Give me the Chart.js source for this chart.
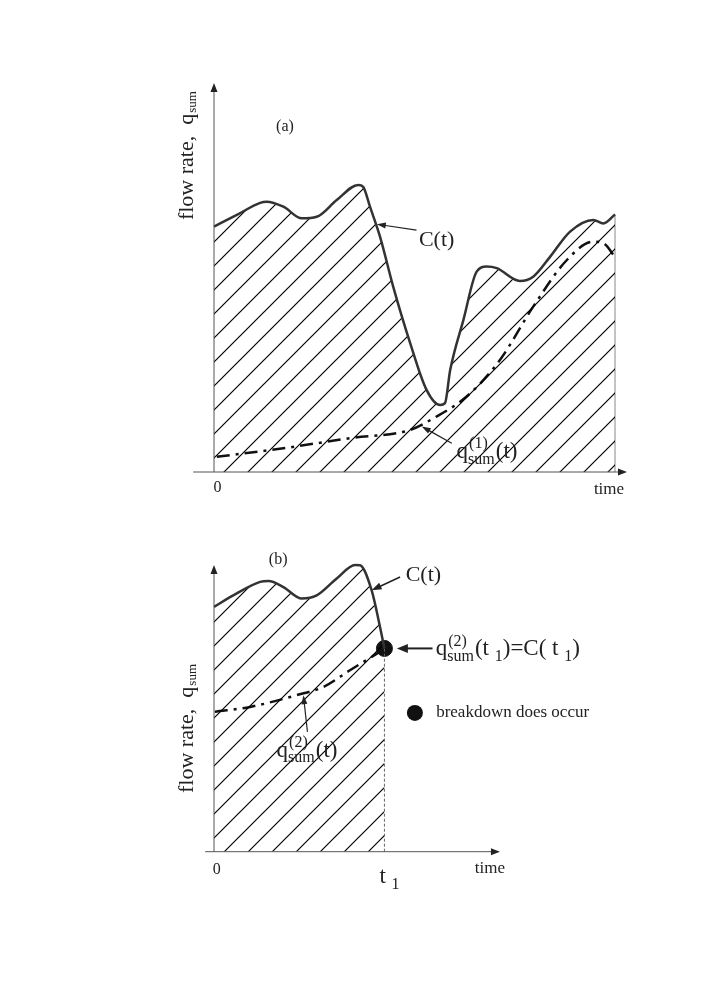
<!DOCTYPE html>
<html>
<head>
<meta charset="utf-8">
<script src="https://cdn.jsdelivr.net/npm/chart.js"></script>
<style>
  body { margin: 0; background: #fff; }
  #wrap { position: relative; width: 709px; height: 1002px; }
  canvas { position: absolute; left: 0; }
</style>
</head>
<body>
<div id="wrap">
  <canvas id="chartA" width="709" height="500" style="top:0"></canvas>
  <canvas id="chartB" width="709" height="420" style="top:500px"></canvas>
</div>
<script>
// panel (a): capacity C(t) and demand q_sum^(1)(t)
const timeA = [0, 0.57, 1.15, 1.31, 1.73, 2.19, 2.56, 3.06, 3.60, 3.72, 3.89, 4.14, 4.47, 4.89, 5.30, 5.64, 5.76, 5.89, 6.22, 6.55, 6.80, 7.05, 7.63, 7.96, 8.38, 8.88, 9.46, 9.71, 10];
const capA = [6.31, 6.61, 6.92, 6.95, 6.82, 6.52, 6.56, 6.99, 7.38, 7.33, 6.82, 6.05, 4.76, 3.32, 2.11, 1.72, 1.77, 2.62, 3.91, 5.15, 5.28, 5.24, 4.91, 5.02, 5.53, 6.18, 6.48, 6.39, 6.62];
const timeQ1 = [0.07, 1.73, 3.39, 4.89, 5.47, 6.30, 7.13, 7.96, 8.80, 9.46, 9.71, 10];
const flowQ1 = [0.39, 0.61, 0.87, 1.08, 1.38, 1.94, 2.88, 4.25, 5.45, 5.92, 5.88, 5.53];

// panel (b): capacity drops until it meets demand at t1
const timeB = [0, 0.48, 1.15, 1.36, 1.73, 2.19, 2.56, 3.06, 3.52, 3.64, 3.93, 4.14, 4.25];
const capB = [8.54, 8.94, 9.41, 9.44, 9.23, 8.83, 8.94, 9.53, 10.0, 9.99, 9.12, 7.84, 7.09];
const timeQ2 = [0.02, 0.90, 2.06, 2.73, 3.39, 4.06, 4.25];
const flowQ2 = [4.88, 5.05, 5.46, 5.75, 6.33, 6.91, 7.09];
const t1 = 4.25;
const breakdownFlow = 7.09;

const SERIF = '"Liberation Serif", "DejaVu Serif", serif';
const INK = '#222';

function pts(xs, ys) { return xs.map((x, i) => ({ x: x, y: ys[i] })); }

// diagonal hatch used as fill under C(t)
function hatch() {
  const s = 24;
  const c = document.createElement('canvas');
  c.width = s; c.height = s;
  const g = c.getContext('2d');
  g.strokeStyle = '#000';
  g.lineWidth = 1.2;
  g.beginPath();
  g.moveTo(-2, s + 2); g.lineTo(s + 2, -2);
  g.moveTo(-2, 2); g.lineTo(2, -2);
  g.moveTo(s - 2, s + 2); g.lineTo(s + 2, s - 2);
  g.stroke();
  return g.createPattern(c, 'repeat');
}

function arrow(ctx, x1, y1, x2, y2, len, wid, lw) {
  const a = Math.atan2(y2 - y1, x2 - x1);
  ctx.save();
  ctx.strokeStyle = INK; ctx.fillStyle = INK; ctx.lineWidth = lw || 1;
  ctx.beginPath();
  ctx.moveTo(x1, y1);
  ctx.lineTo(x2 - Math.cos(a) * len * 0.6, y2 - Math.sin(a) * len * 0.6);
  ctx.stroke();
  ctx.beginPath();
  ctx.moveTo(x2, y2);
  ctx.lineTo(x2 - Math.cos(a) * len - Math.sin(a) * wid / 2, y2 - Math.sin(a) * len + Math.cos(a) * wid / 2);
  ctx.lineTo(x2 - Math.cos(a) * len + Math.sin(a) * wid / 2, y2 - Math.sin(a) * len - Math.cos(a) * wid / 2);
  ctx.closePath();
  ctx.fill();
  ctx.restore();
}

// parts: {t, s} plain text, {sup, sub, s} stacked super/subscript, {lo, s} subscript only
function rich(ctx, x, y, parts) {
  ctx.save();
  ctx.fillStyle = INK;
  ctx.textBaseline = 'alphabetic';
  ctx.textAlign = 'left';
  let cx = x;
  parts.forEach(p => {
    ctx.font = p.s + 'px ' + SERIF;
    if (p.t !== undefined) {
      ctx.fillText(p.t, cx, y);
      cx += ctx.measureText(p.t).width;
    } else if (p.lo !== undefined) {
      ctx.fillText(p.lo, cx, y + p.s * 0.35);
      cx += ctx.measureText(p.lo).width;
    } else {
      const w1 = ctx.measureText(p.sup).width, w2 = ctx.measureText(p.sub).width;
      ctx.fillText(p.sup, cx + 1, y - p.s * 0.6);
      ctx.fillText(p.sub, cx, y + p.s * 0.35);
      cx += Math.max(w1, w2) + 1;
    }
  });
  ctx.restore();
}

function yLabel(ctx, x, y) {
  ctx.save();
  ctx.translate(x, y);
  ctx.rotate(-Math.PI / 2);
  ctx.fillStyle = INK;
  ctx.font = '22px ' + SERIF;
  const main = 'flow rate,  q';
  const w1 = ctx.measureText(main).width;
  ctx.font = '13px ' + SERIF;
  const w2 = ctx.measureText('sum').width;
  const x0 = -(w1 + w2) / 2;
  ctx.textBaseline = 'middle';
  ctx.font = '22px ' + SERIF;
  ctx.fillText(main, x0, 0);
  ctx.font = '13px ' + SERIF;
  ctx.fillText('sum', x0 + w1 + 1, 5);
  ctx.restore();
}

function text(ctx, str, x, y, size, align) {
  ctx.save();
  ctx.fillStyle = INK;
  ctx.font = size + 'px ' + SERIF;
  ctx.textAlign = align || 'center';
  ctx.textBaseline = 'middle';
  ctx.fillText(str, x, y);
  ctx.restore();
}

function drawAxes(ctx, X, Y, xFrom, xTo, yTo) {
  const x0 = X(0), y0 = Y(0);
  ctx.save();
  ctx.strokeStyle = '#555';
  ctx.lineWidth = 1;
  ctx.beginPath();
  ctx.moveTo(X(xFrom), y0); ctx.lineTo(X(xTo) - 6, y0);
  ctx.moveTo(x0, y0); ctx.lineTo(x0, Y(yTo) + 6);
  ctx.stroke();
  ctx.restore();
  arrow(ctx, X(xTo) - 8, y0, X(xTo), y0, 9, 7, 1);
  arrow(ctx, x0, Y(yTo) + 8, x0, Y(yTo), 9, 7, 1);
}

const annotateA = {
  id: 'annotateA',
  afterDraw(chart) {
    const ctx = chart.ctx;
    const X = v => chart.scales.x.getPixelForValue(v);
    const Y = v => chart.scales.y.getPixelForValue(v);
    drawAxes(ctx, X, Y, -0.52, 10.3, 10);
    text(ctx, '(a)', X(1.77), Y(8.87), 16);
    text(ctx, 'C(t)', X(5.11), Y(5.96), 22, 'left');
    arrow(ctx, X(5.05), Y(6.22), X(4.06), Y(6.37), 9, 6, 1.2);
    rich(ctx, X(6.05), Y(0.36), [{ t: 'q', s: 23 }, { sup: '(1)', sub: 'sum', s: 16 }, { t: '(t)', s: 23 }]);
    arrow(ctx, X(5.93), Y(0.74), X(5.18), Y(1.17), 9, 6, 1.2);
    yLabel(ctx, X(-0.67), Y(8.12));
    text(ctx, '0', X(0.09), Y(-0.41), 16);
    text(ctx, 'time', X(9.85), Y(-0.46), 17);
  }
};

const annotateB = {
  id: 'annotateB',
  afterDraw(chart) {
    const ctx = chart.ctx;
    const X = v => chart.scales.x.getPixelForValue(v);
    const Y = v => chart.scales.y.getPixelForValue(v);
    drawAxes(ctx, X, Y, -0.22, 7.13, 10);
    text(ctx, '(b)', X(1.60), Y(10.17), 16);
    text(ctx, 'C(t)', X(4.78), Y(9.64), 22, 'left');
    arrow(ctx, X(4.64), Y(9.58), X(3.93), Y(9.12), 10, 7, 1.5);
    arrow(ctx, X(5.45), Y(breakdownFlow), X(4.56), Y(breakdownFlow), 11, 9, 2);
    rich(ctx, X(5.53), Y(6.85), [{ t: 'q', s: 23 }, { sup: '(2)', sub: 'sum', s: 16 }, { t: '(t ', s: 23 }, { lo: '1', s: 16 }, { t: ')=C( t ', s: 23 }, { lo: '1', s: 16 }, { t: ')', s: 23 }]);
    ctx.save();
    ctx.fillStyle = '#111';
    ctx.beginPath();
    ctx.arc(X(5.01), Y(4.84), 8, 0, Math.PI * 2);
    ctx.fill();
    ctx.restore();
    text(ctx, 'breakdown does occur', X(5.54), Y(4.84), 17, 'left');
    rich(ctx, X(1.56), Y(3.31), [{ t: 'q', s: 23 }, { sup: '(2)', sub: 'sum', s: 16 }, { t: '(t)', s: 23 }]);
    arrow(ctx, X(2.33), Y(4.18), X(2.23), Y(5.46), 9, 6, 1.2);
    yLabel(ctx, X(-0.67), Y(4.28));
    text(ctx, '0', X(0.07), Y(-0.64), 16);
    text(ctx, 'time', X(6.88), Y(-0.57), 17);
    rich(ctx, X(t1) - 5, Y(-0.81) + 8, [{ t: 't ', s: 23 }, { lo: '1', s: 16 }]);
  }
};

function baseOptions(padding) {
  return {
    responsive: false,
    animation: false,
    events: [],
    layout: { padding: padding },
    plugins: { legend: { display: false }, tooltip: { enabled: false } },
    scales: {
      x: { type: 'linear', min: 0, max: 10, display: false },
      y: { type: 'linear', min: 0, max: 10, display: false }
    }
  };
}

const pattern = hatch();

new Chart(document.getElementById('chartA'), {
  type: 'line',
  data: {
    datasets: [
      { label: 'C(t)', data: pts(timeA, capA), borderColor: '#333', borderWidth: 2.5, backgroundColor: pattern,
        fill: 'origin', pointRadius: 0, cubicInterpolationMode: 'monotone', clip: false },
      { label: 'q_sum(1)(t)', data: pts(timeQ1, flowQ1), borderColor: '#111', borderWidth: 2.5, borderDash: [13, 6, 3, 6],
        fill: false, pointRadius: 0, cubicInterpolationMode: 'monotone', clip: false },
      { label: 'end', data: pts([10, 10], [0, capA[capA.length - 1]]), borderColor: '#888', borderWidth: 1,
        fill: false, pointRadius: 0, clip: false }
    ]
  },
  options: baseOptions({ left: 214, right: 94, top: 83, bottom: 28 }),
  plugins: [annotateA]
});

new Chart(document.getElementById('chartB'), {
  type: 'line',
  data: {
    datasets: [
      { label: 'C(t)', data: pts(timeB, capB), borderColor: '#333', borderWidth: 2.5, backgroundColor: pattern,
        fill: 'origin', pointRadius: 0, cubicInterpolationMode: 'monotone', clip: false },
      { label: 'q_sum(2)(t)', data: pts(timeQ2, flowQ2), borderColor: '#111', borderWidth: 2.5, borderDash: [13, 6, 3, 6],
        fill: false, pointRadius: 0, cubicInterpolationMode: 'monotone', clip: false },
      { label: 't1', data: pts([t1, t1], [0, breakdownFlow]), borderColor: '#666', borderWidth: 1, borderDash: [3, 2],
        fill: false, pointRadius: 0, clip: false },
      { label: 'breakdown', data: pts([t1], [breakdownFlow]), showLine: false, pointRadius: 8,
        pointBackgroundColor: '#111', pointBorderColor: '#111', clip: false }
    ]
  },
  options: baseOptions({ left: 214, right: 94, top: 65, bottom: 68.3 }),
  plugins: [annotateB]
});
</script>
</body>
</html>
